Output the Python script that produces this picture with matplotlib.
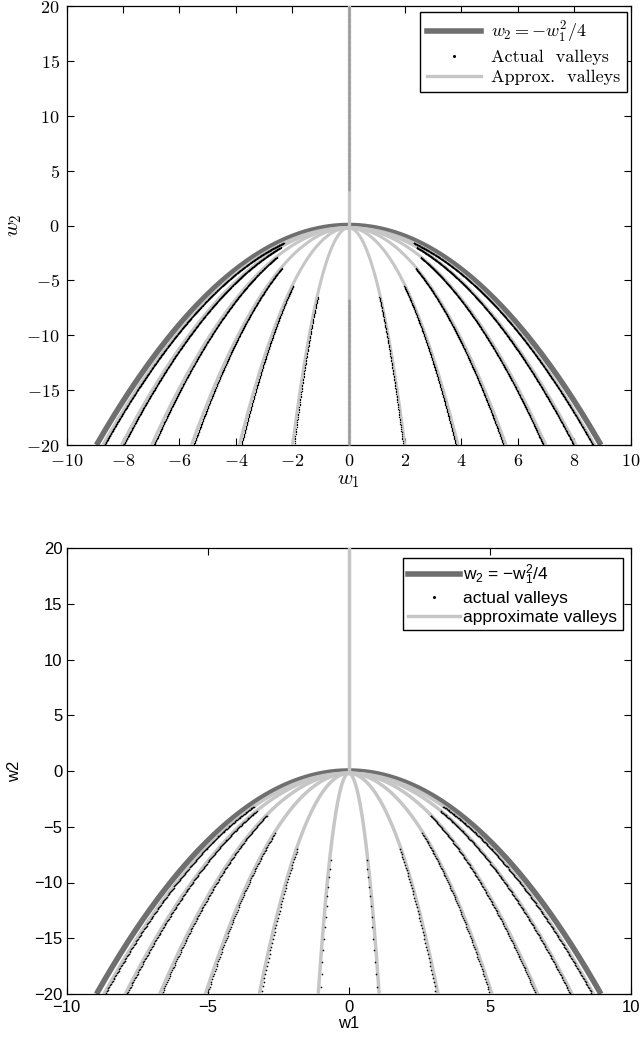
import matplotlib
matplotlib.use("Agg")
import matplotlib.pyplot as plt
import numpy as np
from matplotlib.lines import Line2D

# ---- data ----
# |w1| where each approximate valley meets the bottom edge (w2 = -20)
approx_top_ends = [1.99, 3.88, 5.58, 6.99, 8.06, 8.72]
approx_bot_ends = [1.08, 3.17, 5.08, 6.70, 7.92, 8.68]
# |w1| where each actual valley meets w2 = -20, and the w2 where the dots begin
actual_top_ends = [1.93, 3.80, 5.49, 6.90, 7.98, 8.66]
actual_top_start = [-6.5, -5.5, -3.9, -2.9, -2.0, -1.6]
actual_bot_ends = [1.01, 3.10, 5.01, 6.63, 7.86, 8.63]
actual_bot_start = [-8.0, -7.0, -5.6, -4.0, -3.6, -3.2]
# actual valley pieces lying on w1 = 0 (top panel only)
axis_valley_top = [(3.2, 20.0), (-20.0, -6.7)]
apex_w2 = -0.2           # where the approximate valleys meet
w2_min, w2_max = -20, 20
x_ticks_top = [-10, -8, -6, -4, -2, 0, 2, 4, 6, 8, 10]
x_ticks_bot = [-10, -5, 0, 5, 10]
y_ticks = [-20, -15, -10, -5, 0, 5, 10, 15, 20]

DARK = "#6f6f6f"
LIGHT = "#c6c6c6"
DOT = "#000000"

plt.rcParams["mathtext.fontset"] = "custom"
plt.rcParams["mathtext.rm"] = "Liberation Sans"
plt.rcParams["mathtext.it"] = "Liberation Sans:italic"


def valley_curve(end, n=400):
    w1 = np.linspace(-end, end, n)
    w2 = apex_w2 - (-w2_min + apex_w2) * (w1 / end) ** 2
    return w1, w2


def actual_points(end, start, step):
    w1_start = end * np.sqrt((apex_w2 - start) / (apex_w2 - w2_min))
    side = np.arange(w1_start, end, step)
    w1 = np.concatenate([-side, side])
    w2 = apex_w2 - (-w2_min + apex_w2) * (w1 / end) ** 2
    return w1, w2


def style_axes(ax, xticks, cm):
    ax.set_xlim(-10, 10)
    ax.set_ylim(w2_min, w2_max)
    ax.set_xticks(xticks)
    ax.set_yticks(y_ticks)
    if cm:
        ax.set_xticklabels([f"${t}$" for t in xticks])
        ax.set_yticklabels([f"${t}$" for t in y_ticks])
        for lab in ax.get_xticklabels() + ax.get_yticklabels():
            lab.set_math_fontfamily("cm")
            lab.set_fontsize(13)
        ax.tick_params(axis="x", pad=5)
        ax.tick_params(axis="y", pad=5)
    else:
        ax.set_xticklabels([str(t).replace("-", "\u2212") for t in xticks])
        ax.set_yticklabels([str(t).replace("-", "\u2212") for t in y_ticks])
        for lab in ax.get_xticklabels() + ax.get_yticklabels():
            lab.set_fontfamily("Liberation Sans")
            lab.set_fontsize(12)
        ax.tick_params(axis="x", pad=4)
        ax.tick_params(axis="y", pad=3)
    ax.tick_params(direction="in", top=True, right=True, length=5, width=0.8)
    for sp in ax.spines.values():
        sp.set_linewidth(0.9)
        sp.set_color("black")


fig = plt.figure(figsize=(6.41, 10.44), dpi=100)
ax1 = fig.add_axes([66.7 / 641, 1 - 445 / 1044, 564 / 641, 439 / 1044])
ax2 = fig.add_axes([66.7 / 641, 1 - 994 / 1044, 564 / 641, 446 / 1044])

w1_par = np.linspace(-2 * np.sqrt(-w2_min), 2 * np.sqrt(-w2_min), 600)

# ---- top panel ----
ax1.plot(w1_par, -w1_par ** 2 / 4, color=DARK, lw=4.0, zorder=2, solid_capstyle="butt")
for end in approx_top_ends:
    x, y = valley_curve(end)
    ax1.plot(x, y, color=LIGHT, lw=2.2, zorder=3)
ax1.plot([0, 0], [w2_min, w2_max], color=LIGHT, lw=2.4, zorder=3)
for end, start in zip(actual_top_ends, actual_top_start):
    x, y = actual_points(end, start, 0.008)
    ax1.plot(x, y, ls="none", marker="o", ms=1.0, mew=0, color=DOT, zorder=4)
for lo, hi in axis_valley_top:
    yy = np.arange(lo, hi, 0.05)
    ax1.plot(np.zeros_like(yy), yy, ls="none", marker="o", ms=1.3, mew=0,
             color="#9a9a9a", zorder=4)
style_axes(ax1, x_ticks_top, cm=True)
xl = ax1.set_xlabel("$w_1$", fontsize=15, labelpad=0)
xl.set_math_fontfamily("cm")
yl = ax1.set_ylabel("$w_2$", fontsize=15, labelpad=2)
yl.set_math_fontfamily("cm")

handles1 = [
    Line2D([], [], color=DARK, lw=4.0),
    Line2D([], [], ls="none", marker="o", ms=2.2, mew=0, color="black"),
    Line2D([], [], color=LIGHT, lw=2.4),
]
leg1 = ax1.legend(handles1, [r"$w_2 = -w_1^2/4$", "Actual  valleys", "Approx.  valleys"],
                  loc="upper right", bbox_to_anchor=(0.9934, 0.986), borderaxespad=0,
                  fancybox=False, framealpha=1, edgecolor="black", handlelength=3.0,
                  handletextpad=0.5, borderpad=0.4, labelspacing=0.25,
                  prop={"family": "cmr10", "size": 13})
leg1.get_frame().set_linewidth(1.0)
for t in leg1.get_texts():
    t.set_math_fontfamily("cm")

# ---- bottom panel ----
ax2.plot(w1_par, -w1_par ** 2 / 4, color=DARK, lw=4.0, zorder=2, solid_capstyle="butt")
for end in approx_bot_ends:
    x, y = valley_curve(end)
    ax2.plot(x, y, color=LIGHT, lw=2.5, zorder=3)
ax2.plot([0, 0], [apex_w2, w2_max], color=LIGHT, lw=2.5, zorder=3)
for end, start in zip(actual_bot_ends, actual_bot_start):
    x, y = actual_points(end, start, 0.03)
    ax2.plot(x, y, ls="none", marker="o", ms=1.2, mew=0, color=DOT, zorder=4)
style_axes(ax2, x_ticks_bot, cm=False)
ax2.set_xlabel("w1", fontsize=12, family="Liberation Sans", labelpad=1)
ax2.set_ylabel("w2", fontsize=12, family="Liberation Sans", labelpad=9)

handles2 = [
    Line2D([], [], color=DARK, lw=4.0),
    Line2D([], [], ls="none", marker="o", ms=2.2, mew=0, color="black"),
    Line2D([], [], color=LIGHT, lw=2.5),
]
leg2 = ax2.legend(handles2, [r"w$_2$ = $-$w$_1^2$/4", "actual valleys",
                             "approximate valleys"],
                  loc="upper right", bbox_to_anchor=(0.9858, 0.978), borderaxespad=0,
                  fancybox=False, framealpha=1, edgecolor="black", handlelength=3.0,
                  handletextpad=0.2, borderpad=0.3, labelspacing=0.2,
                  prop={"family": "Liberation Sans", "size": 12.5})
leg2.get_frame().set_linewidth(1.0)
for t in leg2.get_texts():
    t.set_math_fontfamily("custom")

fig.savefig("out.png", dpi=100)
